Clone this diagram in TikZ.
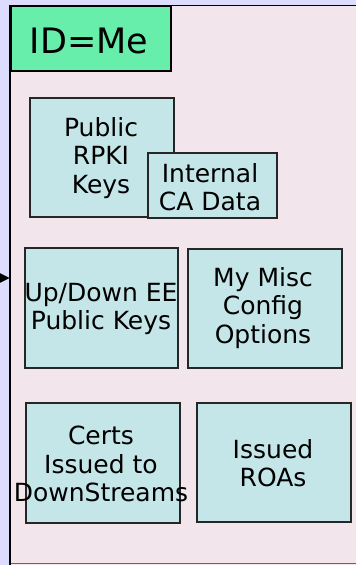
\documentclass[tikz,border=0pt]{standalone}
\usepackage{fontspec}
\setmainfont{DejaVu Sans}
\usetikzlibrary{arrows.meta}
\definecolor{lav}{HTML}{DCDCFF}
\definecolor{pinkbg}{HTML}{F3E5EC}
\definecolor{idgreen}{HTML}{66EEAA}
\definecolor{boxcyan}{HTML}{C4E6E8}
\tikzset{
  databox/.style={draw=black!85, line width=1.7pt, fill=boxcyan, inner sep=0pt, anchor=north west},
  boxlabel/.style={align=center, inner sep=0pt, font=\fontsize{25}{28.5}\selectfont},
}
\begin{document}
\begin{tikzpicture}[x=1pt,y=-1pt]
\useasboundingbox (0,0) rectangle (356,565);
\fill[lav] (0,0) rectangle (356,565);
\fill[pinkbg] (10,5) rectangle (356,565);
\draw[black!60, line width=1pt] (10,563.5) -- (356,563.5);
\draw[black, line width=1.5pt] (10,565) -- (10,5.5) -- (356,5.5);
\coordinate (frameleft) at (9.5,278);
\coordinate (arrowstart) at (-5,278);
\draw[line width=1pt, -{Triangle[length=10pt,width=10pt]}] (arrowstart) -- (frameleft);

\node[draw=black, line width=1.5pt, fill=idgreen, anchor=north west, minimum width=160pt, minimum height=65pt, inner sep=0pt] (id) at (10,5) {};
\node[font=\fontsize{35}{40}\selectfont, inner sep=0pt] (idtext) at (89,41) {ID=Me};

\node[databox, minimum width=144pt, minimum height=119pt] (pub) at (29,97) {};
\node[boxlabel] (pubt) at (101,158) {Public\\RPKI\\Keys};

\node[databox, minimum width=129pt, minimum height=65pt] (ica) at (147,152) {};
\node[boxlabel] (icat) at (210,187) {Internal\\CA Data};

\node[databox, minimum width=153pt, minimum height=120pt] (ud) at (24,247) {};
\node[boxlabel] (udt) at (101,309) {Up/Down EE\\Public Keys};

\node[databox, minimum width=154pt, minimum height=119pt] (misc) at (187,248) {};
\node[boxlabel] (misct) at (263,308) {My Misc\\Config\\Options};

\node[databox, minimum width=154pt, minimum height=120pt] (certs) at (25,402) {};
\node[boxlabel] (certst) at (101,464) {Certs\\Issued to\\DownStreams};

\node[databox, minimum width=154pt, minimum height=119pt] (roa) at (196,402) {};
\node[boxlabel] (roat) at (273,463) {Issued\\ROAs};
\end{tikzpicture}
\end{document}
